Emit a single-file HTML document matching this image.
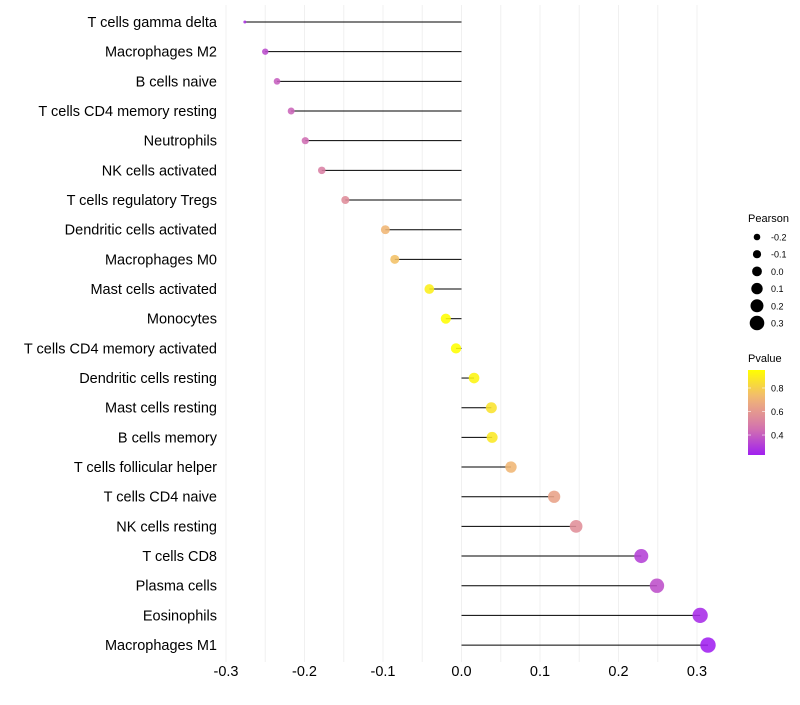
<!DOCTYPE html>
<html><head><meta charset="utf-8"><style>
body{margin:0;background:#fff;font-family:"Liberation Sans",sans-serif}
</style></head><body>
<svg id="chart" width="800" height="700" xmlns="http://www.w3.org/2000/svg" style="font-family:'Liberation Sans',sans-serif"></svg>
<script>
const categories=["T cells gamma delta","Macrophages M2","B cells naive","T cells CD4 memory resting","Neutrophils","NK cells activated","T cells regulatory  Tregs","Dendritic cells activated","Macrophages M0","Mast cells activated","Monocytes","T cells CD4 memory activated","Dendritic cells resting","Mast cells resting","B cells memory","T cells follicular helper","T cells CD4 naive","NK cells resting","T cells CD8","Plasma cells","Eosinophils","Macrophages M1"];
const pearson=[-0.276,-0.250,-0.235,-0.217,-0.199,-0.178,-0.148,-0.097,-0.085,-0.041,-0.020,-0.007,0.016,0.038,0.039,0.063,0.118,0.146,0.229,0.249,0.304,0.314];
const pvalue=[0.28,0.35,0.40,0.42,0.44,0.50,0.55,0.72,0.75,0.90,0.95,0.97,0.92,0.86,0.88,0.72,0.64,0.56,0.32,0.36,0.26,0.23];
const xTicks=[-0.3,-0.2,-0.1,0.0,0.1,0.2,0.3];
const xTickLabels=["-0.3","-0.2","-0.1","0.0","0.1","0.2","0.3"];
const sizeLegend=[-0.2,-0.1,0.0,0.1,0.2,0.3];
const sizeLegendLabels=["-0.2","-0.1","0.0","0.1","0.2","0.3"];
const colorLegend=[0.8,0.6,0.4];

const svg=document.getElementById('chart');
const NS='http://www.w3.org/2000/svg';
function mk(t,a,p){const e=document.createElementNS(NS,t);for(const k in a)e.setAttribute(k,a[k]);(p||svg).appendChild(e);return e;}
const x=v=>461.5+v*785;
const y=i=>22+i*29.67;
const rad=v=>{let r=5.2+8*v;if(v<-0.25)r-=(-0.25-v)*60;return Math.max(1.5,r);};
const pMin=0.23,pMax=0.953;
function col(p){let t=(p-pMin)/(pMax-pMin);t=Math.max(0,Math.min(1,t));
 const s=[[160,32,240],[214,120,170],[240,180,120],[255,255,0]];
 const f=t*3,i=Math.min(2,Math.floor(f)),u=f-i;
 const c=s[i].map((a,k)=>Math.round(a+(s[i+1][k]-a)*u));return `rgb(${c})`;}

const grid=mk('g',{});
for(let v=-0.3;v<=0.301;v+=0.05){mk('line',{x1:x(v),x2:x(v),y1:5,y2:662,stroke:'#f0f0f0','stroke-width':1},grid);}
xTicks.forEach((v,i)=>{const t=mk('text',{x:x(v),y:676,'text-anchor':'middle','font-size':14.5,fill:'#000'});t.textContent=xTickLabels[i];

});
categories.forEach((c,i)=>{
 const t=mk('text',{x:217,y:y(i)+5,'text-anchor':'end','font-size':14.5,fill:'#000'});t.textContent=c;
 
 
 const l=mk('line',{x1:x(0),x2:x(pearson[i]),y1:y(i),y2:y(i),stroke:'#000','stroke-width':1});
 
 
 const d=mk('circle',{cx:x(pearson[i]),cy:y(i),r:rad(pearson[i]),fill:col(pvalue[i]),'fill-opacity':0.88});
 
 
});
const lt=mk('text',{x:748,y:222,'font-size':11});lt.textContent='Pearson';


sizeLegend.forEach((v,i)=>{const cy=237+i*17.2;
 const c=mk('circle',{cx:757,cy:cy,r:rad(v)-0.3,fill:'#000'});
 
 
 const t=mk('text',{x:771,y:cy+3.5,'font-size':9});t.textContent=sizeLegendLabels[i];
 
 });
const ct=mk('text',{x:748,y:362,'font-size':11});ct.textContent='Pvalue';


const defs=mk('defs',{});const g=mk('linearGradient',{id:'pg',x1:0,y1:1,x2:0,y2:0},defs);
for(let k=0;k<=10;k++){mk('stop',{offset:k/10,'stop-color':col(pMin+(pMax-pMin)*k/10)},g);}
const bar=mk('rect',{x:748,y:370,width:17,height:85,fill:'url(#pg)'});


colorLegend.forEach(v=>{const cy=370+(pMax-v)/(pMax-pMin)*85;
 mk('line',{x1:748,x2:751,y1:cy,y2:cy,stroke:'#fff','stroke-width':0.6});mk('line',{x1:762,x2:765,y1:cy,y2:cy,stroke:'#fff','stroke-width':0.6});
 const t=mk('text',{x:771,y:cy+3.5,'font-size':9});t.textContent=v.toFixed(1);
 
 });
</script>
</body></html>
